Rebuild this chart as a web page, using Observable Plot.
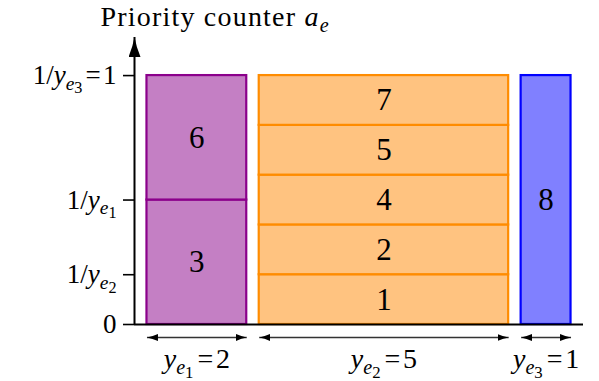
<!DOCTYPE html>
<html><head><meta charset="utf-8">
<script src="https://cdn.jsdelivr.net/npm/d3@7"></script>
<script src="https://cdn.jsdelivr.net/npm/@observablehq/plot@0.6"></script>
<style>html,body{margin:0;padding:0;background:#fff} svg{display:block} svg text{font-family:"Liberation Serif","Times New Roman",serif}</style>
</head><body><div id="chart"></div>
<script>
// ---- data ----
const groupSubs = [1, 2, 3];                         // edges e_1, e_2, e_3
const groupWidths = [2, 5, 1];                       // y_e
const groupElements = [[3, 6], [1, 2, 4, 5, 7], [8]]; // stacked items, bottom to top
const groupFill = ["#c47fc4", "#ffc380", "#8080ff"];
const groupStroke = ["#8b008b", "#ff8c00", "#0000ff"];
const titleWords = "Priority counter";
const titleVar = ["a", "e"];

// ---- layout constants ----
const gap = 0.25;
const yMax = 1.153;
const FONT = '"Liberation Serif", serif';

// ---- derived tables ----
const cells = [];
let cursor = gap;
const groups = groupWidths.map((w, g) => {
  const grp = {g, sub: groupSubs[g], w, x1: cursor, x2: cursor + w};
  groupElements[g].forEach((id, i) => cells.push({id, g, x1: cursor, x2: cursor + w, y1: i / w, y2: (i + 1) / w}));
  cursor += w + gap;
  return grp;
});
const xMax = cursor;

const rich = new Map();
function ye(k) { return [{t: "y", s: "i"}, {t: "e", s: "sub"}, {t: String(k), s: "ss"}]; }
const tickValues = [0];
const tickKeys = new Map([[0, "0"]]);
groups.forEach(d => {
  const v = 1 / d.w;
  tickValues.push(v);
  const key = "1/y_e" + d.sub + (v === 1 ? "=1" : "");
  tickKeys.set(v, key);
  rich.set(key, [{t: "1/", s: "n"}, ...ye(d.sub), ...(v === 1 ? [{t: "=", s: "n", dx: 0.12}, {t: "1", s: "n", dx: 0.08}] : [])]);
});
groups.forEach(d => {
  d.key = "y_e" + d.sub + "=" + d.w;
  rich.set(d.key, [...ye(d.sub), {t: "=", s: "n", dx: 0.14}, {t: String(d.w), s: "n", dx: 0.1}]);
});
const titleKey = titleWords + " " + titleVar.join("_");
rich.set(titleKey, [{t: titleWords + " ", s: "n"}, {t: titleVar[0], s: "i"}, {t: titleVar[1], s: "sub"}]);

const plot = Plot.plot({
  width: 599, height: 381,
  marginLeft: 134, marginRight: 16, marginTop: 37, marginBottom: 57,
  x: {domain: [0, xMax], axis: null},
  y: {domain: [0, yMax], axis: null},
  color: {type: "identity"},
  style: {fontFamily: FONT, fontSize: "27px", background: "white", color: "black", overflow: "visible"},
  marks: [
    Plot.rect(cells, {x1: "x1", x2: "x2", y1: "y1", y2: "y2", fill: d => groupFill[d.g], stroke: d => groupStroke[d.g], strokeWidth: 2.2}),
    Plot.text(cells, {x: d => (d.x1 + d.x2) / 2, y: d => (d.y1 + d.y2) / 2, text: d => String(d.id), fontSize: 31, fill: "black"}),
    Plot.axisY({ticks: tickValues, tickFormat: v => tickKeys.get(v), tickSize: 11, tickPadding: 7, strokeWidth: 1.6, fontSize: 27}),
    Plot.ruleY([0], {strokeWidth: 2, stroke: "black"}),
    Plot.ruleX([0], {y1: 0, y2: yMax, strokeWidth: 2, stroke: "black", ariaLabel: () => "y-axis-arrow"}),
    Plot.link(groups, {x1: "x1", x2: "x2", y1: 0, y2: 0, dy: 13, stroke: "#333", strokeWidth: 1.3, ariaLabel: () => "size-arrow"}),
    Plot.text(groups, {x: d => (d.x1 + d.x2) / 2, y: 0, dy: 35, text: "key", fontSize: 28, fill: "black"}),
    Plot.text([titleKey], {frameAnchor: "top-left", textAnchor: "start", lineAnchor: "middle", dx: -34, dy: -20.5, fontSize: 28, fill: "black", ariaLabel: () => "title"})
  ]
});
document.getElementById("chart").appendChild(plot);

// ---- arrowheads ----
const svg = d3.select(plot);
const defs = svg.insert("defs", ":first-child");
function marker(id, L, W) {
  defs.append("marker").attr("id", id)
    .attr("viewBox", `0 ${-W / 2} ${L} ${W}`).attr("refX", L).attr("refY", 0)
    .attr("markerWidth", L).attr("markerHeight", W).attr("markerUnits", "userSpaceOnUse")
    .attr("orient", "auto-start-reverse")
    .append("path").attr("d", `M0,${-W / 2}Q${L * 0.5},${-W * 0.15} ${L},0Q${L * 0.5},${W * 0.15} 0,${W / 2}Z`)
    .attr("fill", "black").attr("stroke", "none");
}
marker("head-axis", 20, 12);
marker("head-size", 11, 7);
svg.selectAll('[aria-label="y-axis-arrow"]').attr("marker-end", "url(#head-axis)");
svg.selectAll('[aria-label="size-arrow"]').attr("marker-start", "url(#head-size)").attr("marker-end", "url(#head-size)");
svg.selectAll('text[aria-label="title"]').style("letter-spacing", "1.2px");

// ---- rich text (italic variables, subscripts) ----
const STY = {
  n: {size: 1, shift: 0, italic: false},
  i: {size: 1, shift: 0, italic: true},
  sub: {size: 0.72, shift: 0.2, italic: true},
  ss: {size: 0.6, shift: 0.34, italic: false}
};
plot.querySelectorAll("text").forEach(el => {
  const parts = rich.get(el.textContent);
  if (!parts) return;
  const F = parseFloat(getComputedStyle(el).fontSize);
  el.textContent = "";
  let prev = 0;
  for (const p of parts) {
    const st = STY[p.s];
    const ts = document.createElementNS("http://www.w3.org/2000/svg", "tspan");
    ts.setAttribute("font-size", st.size * F);
    if (st.italic) ts.setAttribute("font-style", "italic");
    const dy = st.shift * F - prev; prev = st.shift * F;
    if (dy) ts.setAttribute("dy", dy);
    if (p.dx) ts.setAttribute("dx", p.dx * F);
    ts.textContent = p.t;
    el.appendChild(ts);
  }
});
</script>
</body></html>
